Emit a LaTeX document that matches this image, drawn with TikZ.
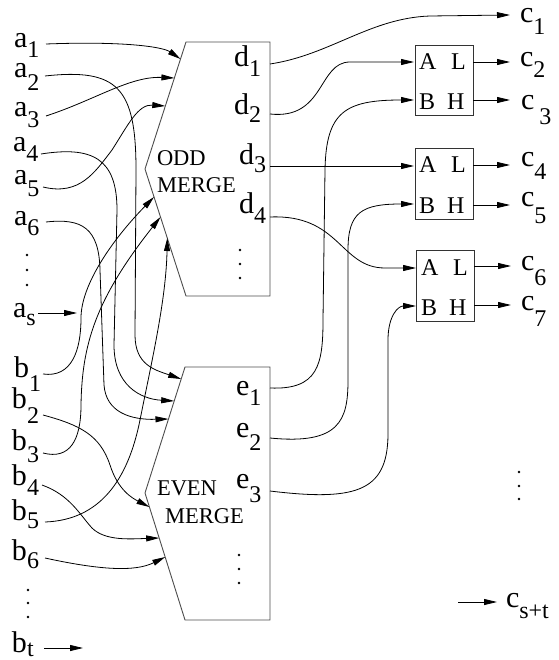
\documentclass[tikz,border=0pt]{standalone}
\usepackage{fontspec}
\setmainfont{Liberation Serif}
\usetikzlibrary{arrows.meta}
\newcommand{\lbl}[3]{{\fontsize{30}{30}\selectfont #1}\raisebox{-#3pt}{\fontsize{24}{24}\selectfont #2}}
\newcommand{\lowlbl}[3]{{\fontsize{30}{30}\selectfont\raisebox{0pt}[13pt][0pt]{#1}}\raisebox{-#3pt}{\fontsize{24}{24}\selectfont #2}}
\newcommand{\mtxt}[1]{{\fontsize{22.5}{22.5}\selectfont #1}}
\newcommand{\ctxt}[1]{{\fontsize{24}{24}\selectfont #1}}
\begin{document}
\begin{tikzpicture}[x=1pt,y=-1pt,
  wire/.style={line width=0.8pt},
  arr/.style={wire,-{Triangle[length=13pt,width=6pt]}},
  blk/.style={line width=0.9pt,draw=black!70},
  cmp/.style={draw=black!80,line width=0.9pt,minimum width=58pt,minimum height=70pt,inner sep=0pt},
  lab/.style={anchor=base west,inner sep=0pt,outer sep=0pt},
  dotm/.style={circle,fill=black,inner sep=0pt,minimum size=2.6pt},
]
\useasboundingbox (0,0) rectangle (558,660);

% ---------------- merge blocks ----------------
\coordinate (o1) at (186,42); \coordinate (o2) at (270,42);
\coordinate (o3) at (270,296); \coordinate (o4) at (186,296);
\coordinate (o5) at (145,169);
\draw[blk] (o1) -- (o2) -- (o3) -- (o4) -- (o5) -- cycle;
\coordinate (v1) at (185,367); \coordinate (v2) at (270,367);
\coordinate (v3) at (270,620); \coordinate (v4) at (185,620);
\coordinate (v5) at (145,493);
\draw[blk] (v1) -- (v2) -- (v3) -- (v4) -- (v5) -- cycle;

\node[lab] (todd) at (157,166) {\mtxt{ODD}};
\node[lab] (todm) at (157,193) {\mtxt{MERGE}};
\node[lab] (tevn) at (157,495) {\mtxt{EVEN}};
\node[lab] (tevm) at (165,523) {\mtxt{MERGE}};

% ---------------- comparators ----------------
\node[cmp] (k1) at (444,80) {};
\node[cmp,minimum height=71pt] (k2) at (444,183.5) {};
\node[cmp,minimum height=71pt] (k3) at (445.5,285.5) {};
\node[lab] (k1a) at (419,70) {\ctxt{A}};
\node[lab] (k1l) at (451,70) {\ctxt{L}};
\node[lab] (k1b) at (419,110) {\ctxt{B}};
\node[lab] (k1h) at (447,110) {\ctxt{H}};
\node[lab] (k2a) at (419,173) {\ctxt{A}};
\node[lab] (k2l) at (451,173) {\ctxt{L}};
\node[lab] (k2b) at (419,213) {\ctxt{B}};
\node[lab] (k2h) at (447,213) {\ctxt{H}};
\node[lab] (k3a) at (421,275) {\ctxt{A}};
\node[lab] (k3l) at (453,275) {\ctxt{L}};
\node[lab] (k3b) at (421,315) {\ctxt{B}};
\node[lab] (k3h) at (449,315) {\ctxt{H}};

% ---------------- labels left ----------------
\node[lab] (la1) at (14,48) {\lbl{a}{1}{10}};
\node[lab] (la2) at (14,78) {\lbl{a}{2}{13}};
\node[lab] (la3) at (14,117) {\lbl{a}{3}{11}};
\node[lab] (la4) at (13,152) {\lbl{a}{4}{10}};
\node[lab] (la5) at (14,185) {\lbl{a}{5}{12}};
\node[lab] (la6) at (14,225) {\lbl{a}{6}{10}};
\node[lab] (las) at (13,317) {\lbl{a}{s}{8}};
\node[lab] (lb1) at (14,377) {\lbl{b}{1}{14}};
\node[lab] (lb2) at (12,408) {\lbl{b}{2}{15}};
\node[lab] (lb3) at (12,450) {\lbl{b}{3}{12}};
\node[lab] (lb4) at (12,485) {\lbl{b}{4}{10}};
\node[lab] (lb5) at (12,520) {\lbl{b}{5}{8}};
\node[lab] (lb6) at (12,560) {\lbl{b}{6}{8}};
\node[lab] (lbt) at (12,652) {\lbl{b}{t}{4}};
\node[dotm] (ld1) at (27,255) {}; \node[dotm] (ld2) at (27,270) {}; \node[dotm] (ld3) at (27,285) {};
\node[dotm] (ld4) at (28,590) {}; \node[dotm] (ld5) at (28,603) {}; \node[dotm] (ld6) at (28,617) {};

% ---------------- labels inside merges ----------------
\node[lab] (ld1l) at (234,67) {\lbl{d}{1}{10}};
\node[lab] (ld2l) at (234,115) {\lbl{d}{2}{8}};
\node[lab] (ld3l) at (239,165) {\lbl{d}{3}{8}};
\node[lab] (ld4l) at (239,213) {\lbl{d}{4}{10}};
\node[dotm] (md1) at (240,250) {}; \node[dotm] (md2) at (240,264) {}; \node[dotm] (md3) at (240,278) {};
\node[lab] (le1l) at (236,395) {\lbl{e}{1}{10}};
\node[lab] (le2l) at (236,437) {\lbl{e}{2}{13}};
\node[lab] (le3l) at (236,488) {\lbl{e}{3}{14}};
\node[dotm] (md4) at (239,555) {}; \node[dotm] (md5) at (239,569) {}; \node[dotm] (md6) at (239,583) {};

% ---------------- labels right ----------------
\node[lab] (lc1) at (520,23) {\lowlbl{c}{1}{12}};
\node[lab] (lc2) at (520,67) {\lbl{c}{2}{11}};
\node[lab] (lc3) at (521,110) {\lbl{c}{\hspace{5pt}3}{15}};
\node[lab] (lc4) at (521,167) {\lbl{c}{4}{13}};
\node[lab] (lc5) at (521,207) {\lbl{c}{5}{17}};
\node[lab] (lc6) at (521,270) {\lbl{c}{6}{15}};
\node[lab] (lc7) at (521,310) {\lbl{c}{7}{16}};
\node[lab] (lcst) at (506,607) {\lbl{c}{s+t}{11}};
\node[dotm] (rd1) at (519,472) {}; \node[dotm] (rd2) at (519,486) {}; \node[dotm] (rd3) at (519,499) {};

% ---------------- input wires ----------------
\coordinate (a1o) at (46,44);  \coordinate (a1i) at (180.5,59);
\coordinate (a2o) at (45,76);  \coordinate (a2i) at (181.2,379);
\coordinate (a3o) at (46,116); \coordinate (a3i) at (174.4,78);
\coordinate (a4o) at (41,154); \coordinate (a4i) at (174.2,401);
\coordinate (a5o) at (43,187); \coordinate (a5i) at (165.3,106);
\coordinate (a6o) at (46,222); \coordinate (a6i) at (168.5,419);
\coordinate (aso) at (38,313); \coordinate (asi) at (77,313);
\coordinate (b1o) at (43,374); \coordinate (b1i) at (154,197);
\coordinate (b2o) at (43,415); \coordinate (b2i) at (149.4,507);
\coordinate (b3o) at (43,453); \coordinate (b3i) at (160.5,217);
\coordinate (b4o) at (42,485); \coordinate (b4i) at (159.2,538);
\coordinate (b5o) at (45,522); \coordinate (b5i) at (167.3,238);
\coordinate (b6o) at (45,558); \coordinate (b6i) at (165.2,557);
\coordinate (bto) at (44,648); \coordinate (bti) at (83,648);

\draw[arr] (a1o) .. controls (125,41) and (163,47) .. (a1i);
\draw[arr] (a2o) .. controls (118,68) and (136,88) .. (136,170) -- (135,335) .. controls (135,365) and (155,370) .. (a2i);
\draw[arr] (a3o) .. controls (95,100) and (130,76) .. (a3i);
\draw[arr] (a4o) .. controls (92,146) and (117,158) .. (117,210) -- (114,345) .. controls (114,385) and (140,399) .. (a4i);
\draw[arr] (a5o) .. controls (80,196) and (95,172) .. (112,150) .. controls (128,125) and (138,104) .. (a5i);
\draw[arr] (a6o) .. controls (82,218) and (99,228) .. (100,270) -- (104,385) .. controls (106,412) and (130,420) .. (a6i);
\draw[arr] (aso) -- (asi);
\draw[arr] (b1o) .. controls (72,378) and (81,350) .. (81,318) .. controls (81,285) and (112,240) .. (b1i);
\draw[arr] (b2o) .. controls (80,425) and (100,435) .. (110,465) .. controls (118,490) and (132,498) .. (b2i);
\draw[arr] (b3o) .. controls (70,460) and (81,440) .. (81,405) .. controls (82,345) and (95,300) .. (b3i);
\draw[arr] (b4o) .. controls (70,495) and (80,515) .. (92,528) .. controls (105,541) and (130,539) .. (b4i);
\draw[arr] (b5o) .. controls (100,520) and (128,480) .. (140,420) .. controls (152,360) and (166,300) .. (b5i);
\draw[arr] (b6o) .. controls (100,570) and (135,572) .. (b6i);
\draw[arr] (bto) -- (bti);

% ---------------- output wires of merges ----------------
\coordinate (d1o) at (270,64);  \coordinate (c1i) at (510,15);
\coordinate (d2o) at (270,114); \coordinate (k1ai) at (414,62);
\coordinate (d3o) at (270,166); \coordinate (k2ai) at (414,166);
\coordinate (d4o) at (270,217); \coordinate (k3ai) at (416,268);
\coordinate (e1o) at (270,388); \coordinate (k1bi) at (414,100);
\coordinate (e2o) at (270,438); \coordinate (k2bi) at (414,204);
\coordinate (e3o) at (270,491); \coordinate (k3bi) at (416,306);

\draw[arr] (d1o) .. controls (330,55) and (370,18) .. (430,16) -- (c1i);
\draw[arr] (d2o) .. controls (325,120) and (318,62) .. (350,62) -- (k1ai);
\draw[arr] (d3o) -- (k2ai);
\draw[arr] (d4o) .. controls (340,214) and (340,268) .. (385,268) -- (k3ai);
\draw[arr] (e1o) .. controls (318,390) and (323,365) .. (323,320) -- (325,170) .. controls (326,112) and (345,100) .. (k1bi);
\draw[arr] (e2o) .. controls (340,445) and (348,420) .. (348,380) -- (348,250) .. controls (348,212) and (362,204) .. (k2bi);
\draw[arr] (e3o) .. controls (360,502) and (389,490) .. (388,430) -- (388,340) .. controls (388,316) and (398,306) .. (k3bi);

% ---------------- comparator outputs ----------------
\coordinate (k1lo) at (473,62);  \coordinate (c2i) at (510,62);
\coordinate (k1ho) at (473,100); \coordinate (c3i) at (510,100);
\coordinate (k2lo) at (473,165); \coordinate (c4i) at (510,165);
\coordinate (k2ho) at (473,205); \coordinate (c5i) at (510,205);
\coordinate (k3lo) at (474,266); \coordinate (c6i) at (511,266);
\coordinate (k3ho) at (474,305); \coordinate (c7i) at (511,305);
\coordinate (csto) at (458,602); \coordinate (csti) at (497,602);
\draw[arr] (k1lo) -- (c2i);
\draw[arr] (k1ho) -- (c3i);
\draw[arr] (k2lo) -- (c4i);
\draw[arr] (k2ho) -- (c5i);
\draw[arr] (k3lo) -- (c6i);
\draw[arr] (k3ho) -- (c7i);
\draw[arr] (csto) -- (csti);
\end{tikzpicture}
\end{document}
